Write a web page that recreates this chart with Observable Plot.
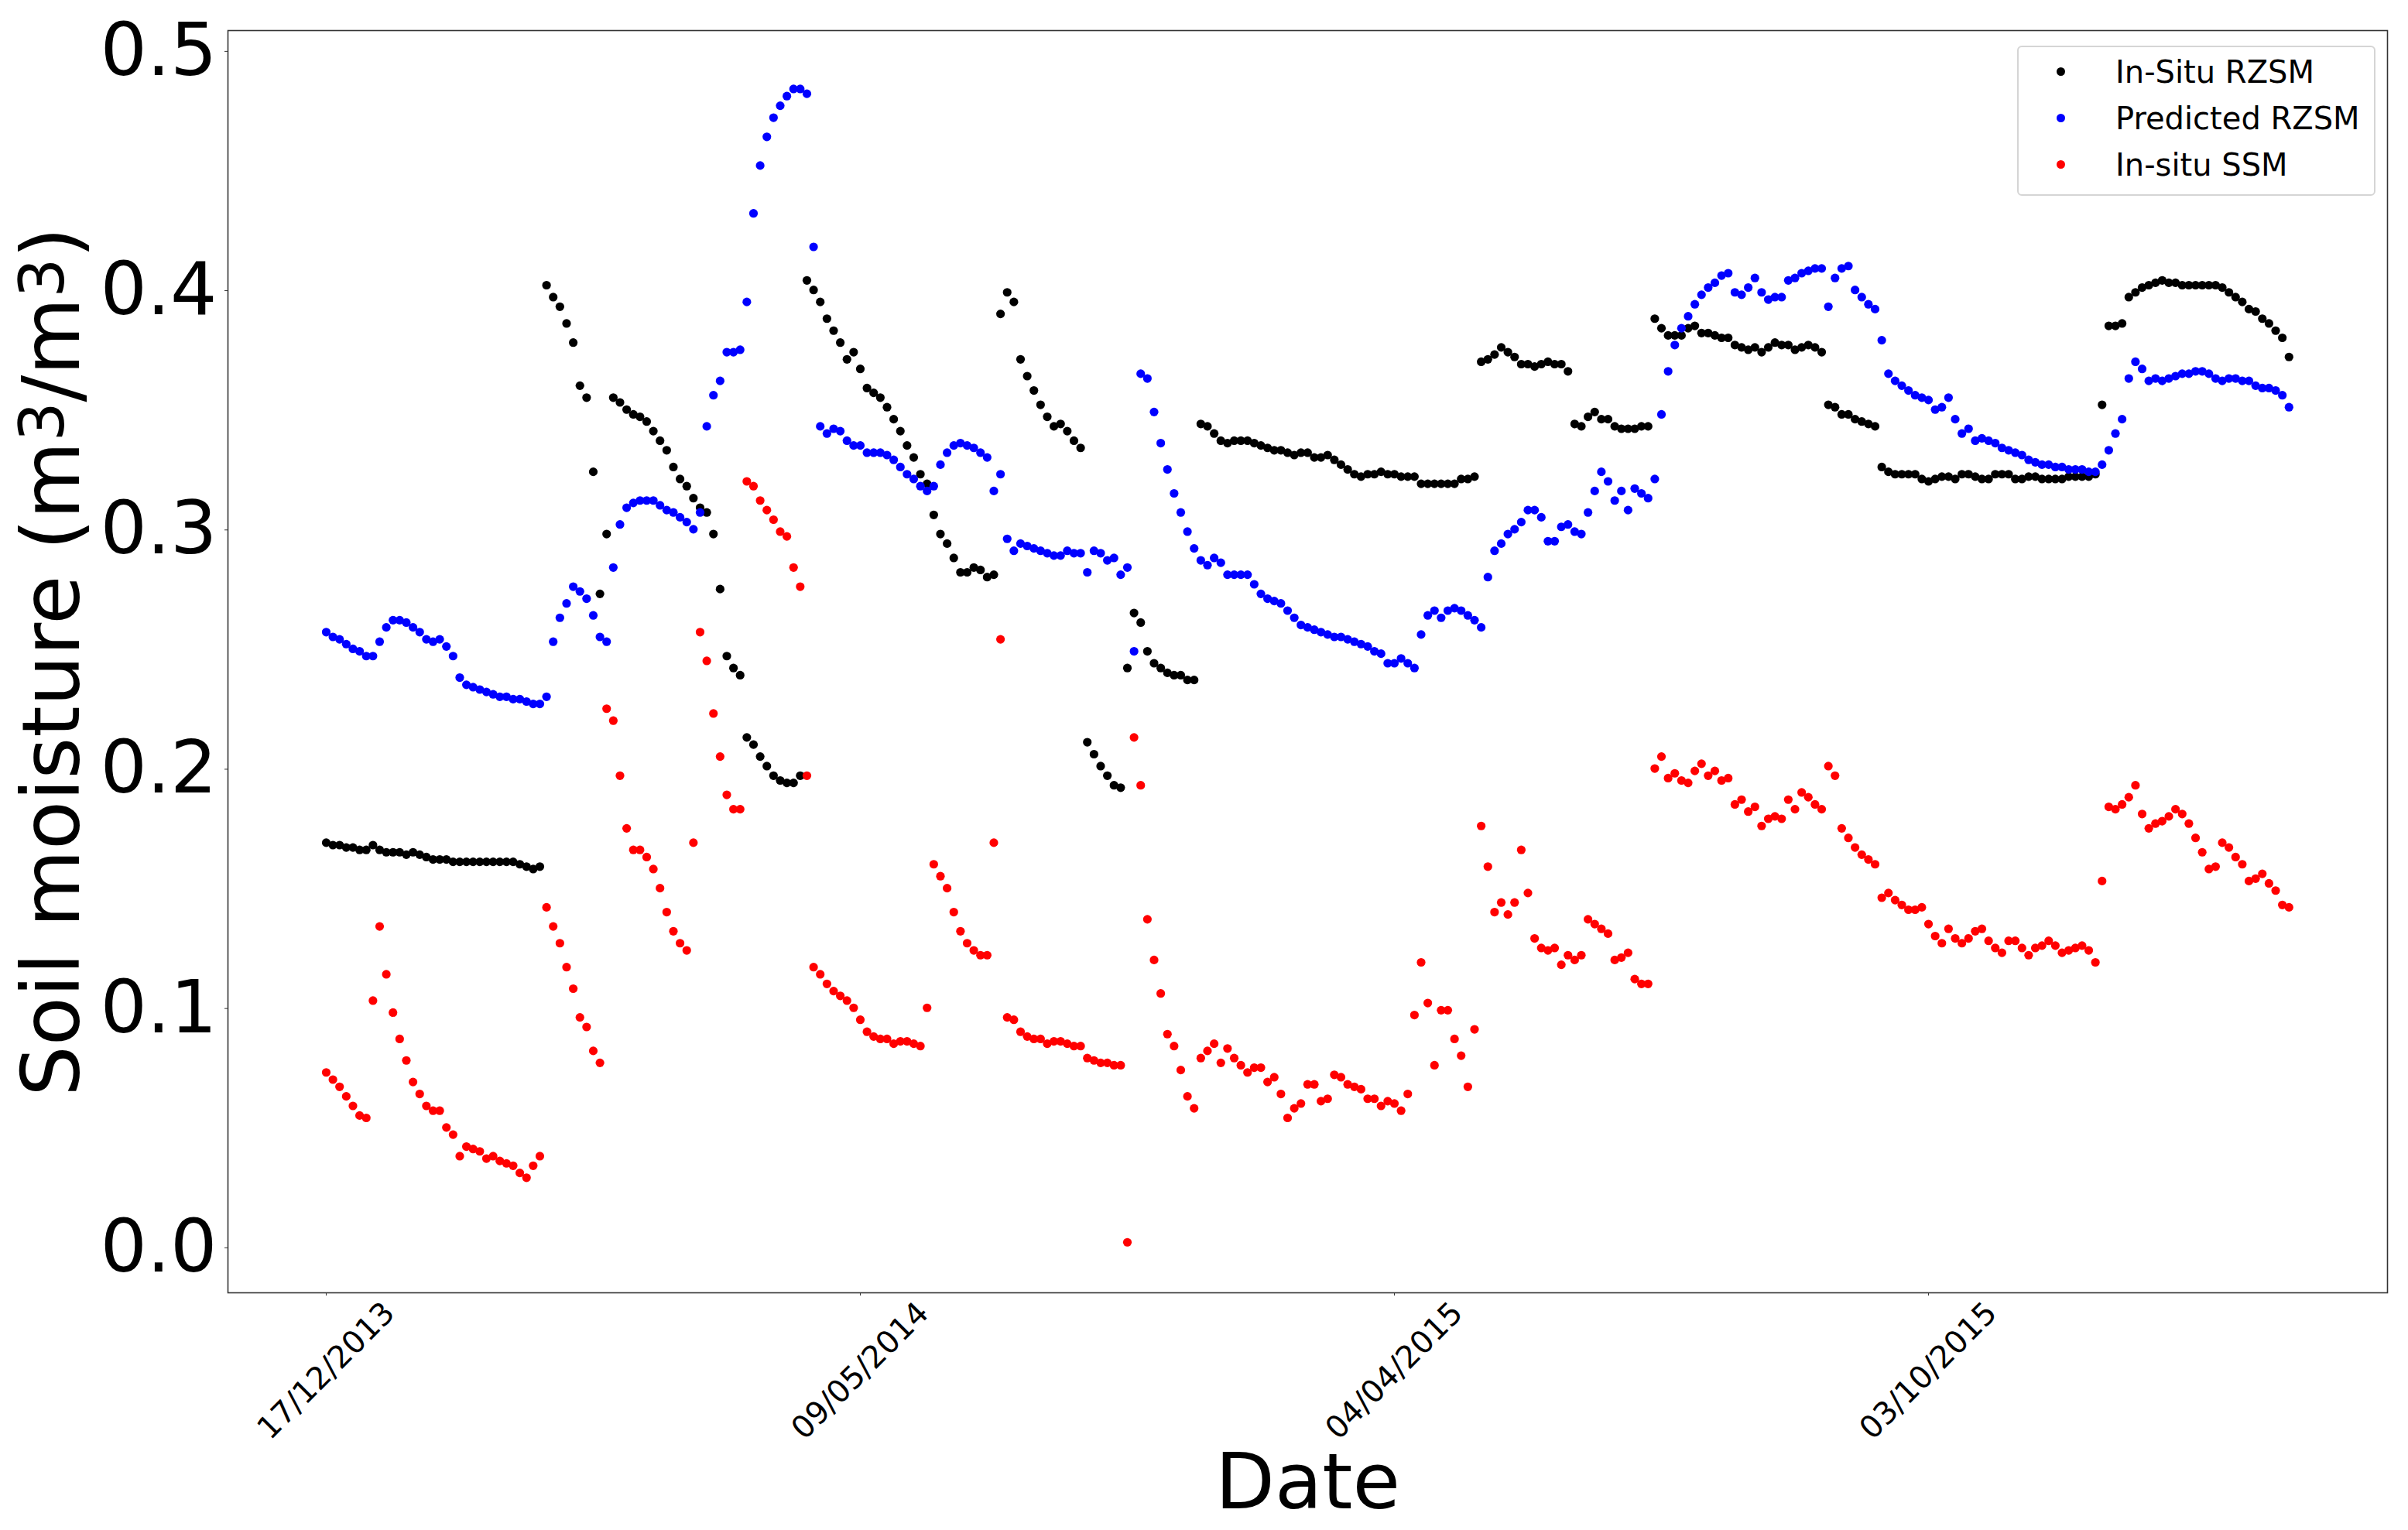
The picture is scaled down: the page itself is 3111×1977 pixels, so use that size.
<!DOCTYPE html>
<html>
<head>
<meta charset="utf-8">
<script src="https://cdn.jsdelivr.net/npm/d3@7"></script>
<script src="https://cdn.jsdelivr.net/npm/@observablehq/plot@0.6"></script>
<style>
  html, body { margin: 0; padding: 0; background: #fff; }
  #wrap { position: relative; width: 3111px; height: 1977px; font-family: "DejaVu Sans"; }
  #wrap svg { display: block; }
</style>
</head>
<body>
<div id="wrap"></div>
<script>
// ---- data ----
const dateLabels = ["17/12/2013", "09/05/2014", "04/04/2015", "03/10/2015"];
const dateTickIndex = [0, 80, 160, 240];
const yTicks = [0, 0.1, 0.2, 0.3, 0.4, 0.5];
const seriesNames = ["In-Situ RZSM", "Predicted RZSM", "In-situ SSM"];
const seriesColors = ["#000000", "#0000ff", "#ff0000"];

const insituRZSM = [
0.168,0.167,0.167,0.166,0.166,0.165,0.165,0.167,0.165,0.164,
0.164,0.164,0.163,0.164,0.163,0.162,0.161,0.161,0.161,0.160,
0.160,0.160,0.160,0.160,0.160,0.160,0.160,0.160,0.160,0.159,
0.158,0.157,0.158,0.401,0.396,0.392,0.385,0.377,0.359,0.354,
0.323,0.272,0.297,0.354,0.352,0.349,0.347,0.346,0.344,0.340,
0.336,0.332,0.325,0.320,0.317,0.312,0.308,0.306,0.297,0.274,
0.246,0.241,0.238,0.212,0.209,0.204,0.200,0.196,0.194,0.193,
0.193,0.196,0.403,0.399,0.394,0.387,0.382,0.377,0.370,0.373,
0.366,0.358,0.356,0.354,0.350,0.345,0.340,0.334,0.329,0.322,
0.318,0.305,0.297,0.293,0.287,0.281,0.281,0.283,0.282,0.279,
0.280,0.389,0.398,0.394,0.370,0.363,0.357,0.351,0.346,0.342,
0.343,0.340,0.336,0.333,0.210,0.205,0.200,0.196,0.192,0.191,
0.241,0.264,0.260,0.248,0.243,0.241,0.239,0.238,0.238,0.236,
0.236,0.343,0.342,0.339,0.336,0.335,0.336,0.336,0.336,0.335,
0.334,0.333,0.332,0.332,0.331,0.330,0.331,0.331,0.329,0.329,
0.330,0.328,0.326,0.324,0.322,0.321,0.322,0.322,0.323,0.322,
0.322,0.321,0.321,0.321,0.318,0.318,0.318,0.318,0.318,0.318,
0.320,0.320,0.321,0.369,0.370,0.372,0.375,0.373,0.371,0.368,
0.368,0.367,0.368,0.369,0.368,0.368,0.365,0.343,0.342,0.346,
0.348,0.345,0.345,0.342,0.341,0.341,0.341,0.342,0.342,0.387,
0.383,0.380,0.380,0.380,0.383,0.384,0.381,0.381,0.380,0.379,
0.379,0.376,0.375,0.374,0.375,0.373,0.375,0.377,0.376,0.376,
0.374,0.375,0.376,0.375,0.373,0.351,0.350,0.347,0.347,0.345,
0.344,0.343,0.342,0.325,0.323,0.322,0.322,0.322,0.322,0.320,
0.319,0.320,0.321,0.321,0.320,0.322,0.322,0.321,0.320,0.320,
0.322,0.322,0.322,0.320,0.320,0.321,0.321,0.320,0.320,0.320,
0.320,0.321,0.321,0.321,0.321,0.322,0.351,0.384,0.384,0.385,
0.396,0.398,0.400,0.401,0.402,0.403,0.402,0.402,0.401,0.401,
0.401,0.401,0.401,0.401,0.400,0.398,0.396,0.394,0.391,0.390,
0.387,0.385,0.382,0.379,0.371
];

const predictedRZSM = [
0.256,0.254,0.253,0.251,0.249,0.248,0.246,0.246,0.252,0.258,
0.261,0.261,0.260,0.258,0.256,0.253,0.252,0.253,0.250,0.246,
0.237,0.234,0.233,0.232,0.231,0.230,0.229,0.229,0.228,0.228,
0.227,0.226,0.226,0.229,0.252,0.262,0.268,0.275,0.273,0.270,
0.263,0.254,0.252,0.283,0.301,0.308,0.310,0.311,0.311,0.311,
0.309,0.307,0.306,0.304,0.302,0.299,0.306,0.342,0.355,0.361,
0.373,0.373,0.374,0.394,0.431,0.451,0.463,0.471,0.476,0.480,
0.483,0.483,0.481,0.417,0.342,0.339,0.341,0.340,0.336,0.334,
0.334,0.331,0.331,0.331,0.330,0.328,0.325,0.322,0.320,0.317,
0.315,0.317,0.326,0.331,0.334,0.335,0.334,0.333,0.331,0.329,
0.315,0.322,0.295,0.290,0.293,0.292,0.291,0.290,0.289,0.288,
0.288,0.290,0.289,0.289,0.281,0.290,0.289,0.286,0.287,0.280,
0.283,0.248,0.364,0.362,0.348,0.335,0.324,0.314,0.306,0.298,
0.291,0.286,0.284,0.287,0.285,0.280,0.280,0.280,0.280,0.276,
0.272,0.270,0.269,0.268,0.265,0.262,0.259,0.258,0.257,0.256,
0.255,0.254,0.254,0.253,0.252,0.251,0.250,0.248,0.247,0.243,
0.243,0.245,0.243,0.241,0.255,0.263,0.265,0.262,0.265,0.266,
0.265,0.263,0.261,0.258,0.279,0.290,0.293,0.297,0.299,0.302,
0.307,0.307,0.304,0.294,0.294,0.300,0.301,0.298,0.297,0.306,
0.315,0.323,0.319,0.311,0.315,0.307,0.316,0.314,0.312,0.320,
0.347,0.365,0.376,0.383,0.388,0.393,0.397,0.400,0.402,0.405,
0.406,0.398,0.397,0.400,0.404,0.398,0.395,0.396,0.396,0.403,
0.404,0.406,0.407,0.408,0.408,0.392,0.404,0.408,0.409,0.399,
0.396,0.393,0.391,0.378,0.364,0.361,0.359,0.357,0.355,0.354,
0.353,0.349,0.350,0.354,0.345,0.339,0.341,0.336,0.337,0.336,
0.335,0.333,0.332,0.331,0.330,0.328,0.327,0.326,0.326,0.325,
0.325,0.324,0.324,0.324,0.323,0.323,0.326,0.332,0.339,0.345,
0.362,0.369,0.366,0.361,0.362,0.361,0.362,0.363,0.364,0.364,
0.365,0.365,0.364,0.362,0.361,0.362,0.362,0.361,0.361,0.359,
0.358,0.358,0.357,0.355,0.350
];

const insituSSM = [
0.072,0.069,0.066,0.062,0.058,0.054,0.053,0.102,0.133,0.113,
0.097,0.086,0.077,0.068,0.063,0.058,0.056,0.056,0.049,0.046,
0.037,0.041,0.040,0.039,0.036,0.037,0.035,0.034,0.033,0.030,
0.028,0.033,0.037,0.141,0.133,0.126,0.116,0.107,0.095,0.091,
0.081,0.076,0.224,0.219,0.196,0.174,0.165,0.165,0.162,0.157,
0.149,0.139,0.131,0.126,0.123,0.168,0.256,0.244,0.222,0.204,
0.188,0.182,0.182,0.319,0.317,0.311,0.307,0.303,0.298,0.296,
0.283,0.275,0.196,0.116,0.113,0.109,0.106,0.104,0.102,0.099,
0.094,0.089,0.087,0.086,0.086,0.084,0.085,0.085,0.084,0.083,
0.099,0.159,0.154,0.149,0.139,0.131,0.126,0.123,0.121,0.121,
0.168,0.253,0.095,0.094,0.089,0.087,0.086,0.086,0.084,0.085,
0.085,0.084,0.083,0.083,0.078,0.077,0.076,0.076,0.075,0.075,
0.001,0.212,0.192,0.136,0.119,0.105,0.088,0.083,0.073,0.062,
0.057,0.078,0.081,0.084,0.076,0.082,0.078,0.075,0.072,0.074,
0.074,0.068,0.070,0.063,0.053,0.057,0.059,0.067,0.067,0.060,
0.061,0.071,0.070,0.067,0.066,0.065,0.061,0.061,0.058,0.060,
0.059,0.056,0.063,0.096,0.118,0.101,0.075,0.098,0.098,0.086,
0.079,0.066,0.090,0.175,0.158,0.139,0.143,0.138,0.143,0.165,
0.147,0.128,0.124,0.123,0.124,0.117,0.121,0.119,0.121,0.136,
0.134,0.132,0.130,0.119,0.120,0.122,0.111,0.109,0.109,0.199,
0.204,0.195,0.197,0.194,0.193,0.198,0.201,0.196,0.198,0.194,
0.195,0.184,0.186,0.181,0.183,0.175,0.178,0.179,0.178,0.186,
0.182,0.189,0.187,0.184,0.182,0.200,0.196,0.174,0.170,0.166,
0.163,0.161,0.159,0.145,0.147,0.144,0.142,0.140,0.140,0.141,
0.134,0.129,0.126,0.132,0.128,0.126,0.128,0.131,0.132,0.127,
0.124,0.122,0.127,0.127,0.124,0.121,0.124,0.125,0.127,0.125,
0.122,0.123,0.124,0.125,0.123,0.118,0.152,0.183,0.182,0.184,
0.187,0.192,0.180,0.174,0.176,0.177,0.179,0.182,0.180,0.176,
0.170,0.164,0.157,0.158,0.168,0.166,0.162,0.159,0.152,0.153,
0.155,0.151,0.148,0.142,0.141
];

// ---- build table ----
const rows = [];
[insituRZSM, predictedRZSM, insituSSM].forEach((arr, s) =>
  arr.forEach((v, i) => rows.push({i, v, series: seriesNames[s]})));

const W = 3111, H = 1977;
const M = {left: 294, right: 27, top: 39, bottom: 307};

const chart = Plot.plot({
  width: W, height: H,
  marginLeft: M.left, marginRight: M.right, marginTop: M.top, marginBottom: M.bottom,
  style: {fontFamily: "DejaVu Sans", background: "white", color: "black", overflow: "visible"},
  x: {domain: [-14.72, 308.75]},
  y: {domain: [-0.0201, 0.5074]},
  color: {domain: seriesNames, range: seriesColors},
  marks: [
    Plot.dot(rows, {x: "i", y: "v", fill: "series", r: 5.6, stroke: null}),
    Plot.frame({stroke: "#333", strokeWidth: 1.6}),
    Plot.axisY(yTicks, {
      tickFormat: d3.format(".1f"), tickSize: 4, tickPadding: 10, fontSize: 95, dy: 4,
      stroke: "#333", label: null
    }),
    Plot.axisY([], {
      tickSize: 0, fontSize: 103, label: "Soil moisture (m3/m3)", labelAnchor: "center",
      labelOffset: 266, labelArrow: "none"
    }),
    Plot.axisX(dateTickIndex, {
      tickFormat: d => dateLabels[dateTickIndex.indexOf(d)],
      tickSize: 4, tickRotate: -45, textAnchor: "middle", lineAnchor: "middle",
      tickPadding: 97, fontSize: 40, stroke: "#333", label: null
    }),
    Plot.axisX([], {label: "Date", labelAnchor: "center", labelOffset: 278, fontSize: 100, tickSize: 0, labelArrow: "none"})
  ]
});

document.getElementById("wrap").appendChild(chart);

// strip any label arrows that the library may add
for (const n of chart.querySelectorAll("text, tspan")) {
  for (const c of n.childNodes) {
    if (c.nodeType === 3 && /[→←↑↓]/.test(c.nodeValue)) c.nodeValue = c.nodeValue.replace(/\s*[→←↑↓]\s*/g, "");
  }
}

// superscripts in the y label
const ylab = [...chart.querySelectorAll("text")].find(n => n.textContent.includes("Soil moisture"));
if (ylab) {
  const target = ylab.querySelector("tspan") || ylab;
  target.textContent = "";
  const parts = [["Soil moisture (m", 0, null], ["3", -20, 80], ["/m", 20, null], ["3", -20, 80], [")", 20, null]];
  for (const [txt, dy, fs] of parts) {
    const ts = document.createElementNS("http://www.w3.org/2000/svg", "tspan");
    ts.textContent = txt;
    if (dy) ts.setAttribute("dy", dy);
    if (fs) ts.setAttribute("font-size", fs);
    target.appendChild(ts);
  }
}

// legend (upper right, inside the frame)
const legend = document.createElement("div");
legend.style.cssText = "position:absolute;left:2606px;top:59px;width:463px;height:194px;box-sizing:border-box;" +
  "border:2px solid #d5d5d5;border-radius:6px;background:rgba(255,255,255,0.8);";
seriesNames.forEach((name, k) => {
  const cy = 31.7 + 60 * k;
  const mk = document.createElement("div");
  mk.style.cssText = `position:absolute;left:49px;top:${cy - 5.5}px;width:11px;height:11px;border-radius:50%;background:${seriesColors[k]};`;
  const tx = document.createElement("div");
  tx.style.cssText = `position:absolute;left:125px;top:${cy - 20}px;height:40px;line-height:40px;font-size:40px;font-family:'DejaVu Sans';color:#000;white-space:nowrap;`;
  tx.textContent = name;
  legend.appendChild(mk);
  legend.appendChild(tx);
});
document.getElementById("wrap").appendChild(legend);
</script>
</body>
</html>
